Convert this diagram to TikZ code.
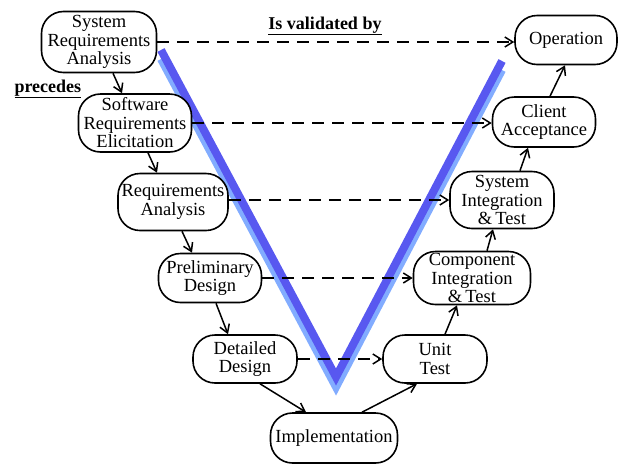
\documentclass[tikz,border=0pt]{standalone}
\usepackage{fontspec}
\setmainfont{Liberation Serif}
\usepackage{tikz}
\usetikzlibrary{arrows,arrows.meta}
\usetikzlibrary{positioning}
\definecolor{vdark}{RGB}{88,88,240}
\definecolor{vlight}{RGB}{130,172,255}
\tikzset{
    phase/.style={
           rectangle,
           rounded corners=22pt,
           draw=black, line width=1.6pt,
           fill=white,
           inner sep=1pt,
           align=center,
           font=\fontsize{18.5}{18.5}\selectfont,
           },
    validates/.style={->, line width=1.5pt, dash pattern=on 12pt off 8pt},
    precedes/.style={->, line width=1.5pt},
    vleg/.style={line width=8pt, line join=miter},
}

\begin{document}
\begin{tikzpicture}[x=1pt,y=-1pt,>={Straight Barb[length=8pt,width=10pt]}]
 \useasboundingbox (0,0) rectangle (618,464);

 % the V behind everything, light copy shifted down
 \draw[vleg, vlight] (161,59) -- (336,387) -- (502,70);
 \draw[vleg, vdark] (161,50) -- (336,377) -- (502,61);

 % left side (definition)
 \node[phase, minimum width=115pt, minimum height=61pt] (SysReq) at (99,42)
  {System\\Requirements\\Analysis};
 \node[phase, minimum width=113pt, minimum height=58pt] (SwReq) at (135,123)
  {Software\\Requirements\\Elicitation};
 \node[phase, minimum width=110pt, minimum height=57pt] (ReqAna) at (173,202)
  {Requirements\\Analysis};
 \node[phase, minimum width=103pt, minimum height=49pt] (PrelDes) at (210,278)
  {Preliminary\\Design};
 \node[phase, minimum width=104pt, minimum height=48pt] (DetDes) at (245,359)
  {Detailed\\Design};

 % bottom
 \node[phase, minimum width=127pt, minimum height=50pt] (Impl) at (334,438)
  {Implementation};

 % right side (validation)
 \node[phase, minimum width=104pt, minimum height=48pt] (UnitTest) at (435,359)
  {Unit\\Test};
 \node[phase, minimum width=117pt, minimum height=53pt] (CompTest) at (472,278)
  {Component\\Integration\\\&\,Test};
 \node[phase, minimum width=104pt, minimum height=57pt] (SysTest) at (502,200)
  {System\\Integration\\\&\,Test};
 \node[phase, minimum width=103pt, minimum height=50pt] (Accept) at (544,122)
  {Client\\Acceptance};
 \node[phase, minimum width=102pt, minimum height=49pt] (Operation) at (566,40)
  {Operation};

 % labels
 \node[font=\fontsize{18}{18.5}\selectfont] (valLabel) at (325,26)
  {\underline{\textbf{Is validated by}}};
 \node[font=\fontsize{18}{18.5}\selectfont, anchor=west] (precLabel) at (11,89)
  {\underline{\textbf{precedes}}};

 % dashed validation arrows
 \draw[validates] (SysReq.east) -- (Operation.west |- SysReq.east);
 \draw[validates] (SwReq.east) -- (Accept.west |- SwReq.east);
 \draw[validates] (ReqAna.east |- SysTest.west) -- (SysTest.west);
 \draw[validates] (PrelDes.east) -- (CompTest.west |- PrelDes.east);
 \draw[validates] (DetDes.east) -- (UnitTest.west);

 % solid precedence arrows
 \draw[precedes] ([xshift=14pt]SysReq.south) -- ([xshift=-13pt]SwReq.north);
 \draw[precedes] ([xshift=13pt]SwReq.south) -- ([xshift=-16pt]ReqAna.north);
 \draw[precedes] ([xshift=9pt]ReqAna.south) -- ([xshift=-18pt]PrelDes.north);
 \draw[precedes] ([xshift=6pt]PrelDes.south) -- ([xshift=-17pt]DetDes.north);
 \draw[precedes] ([xshift=15pt]DetDes.south) -- ([xshift=-28pt]Impl.north);
 \draw[precedes] ([xshift=28pt]Impl.north) -- ([xshift=-18pt]UnitTest.south);
 \draw[precedes] ([xshift=10pt]UnitTest.north) -- ([xshift=-15pt]CompTest.south);
 \draw[precedes] ([xshift=15pt]CompTest.north) -- ([xshift=-9pt]SysTest.south);
 \draw[precedes] ([xshift=18pt]SysTest.north) -- ([xshift=-16pt]Accept.south);
 \draw[precedes] ([xshift=6pt]Accept.north) -- ([xshift=-1pt]Operation.south);

\end{tikzpicture}
\end{document}
